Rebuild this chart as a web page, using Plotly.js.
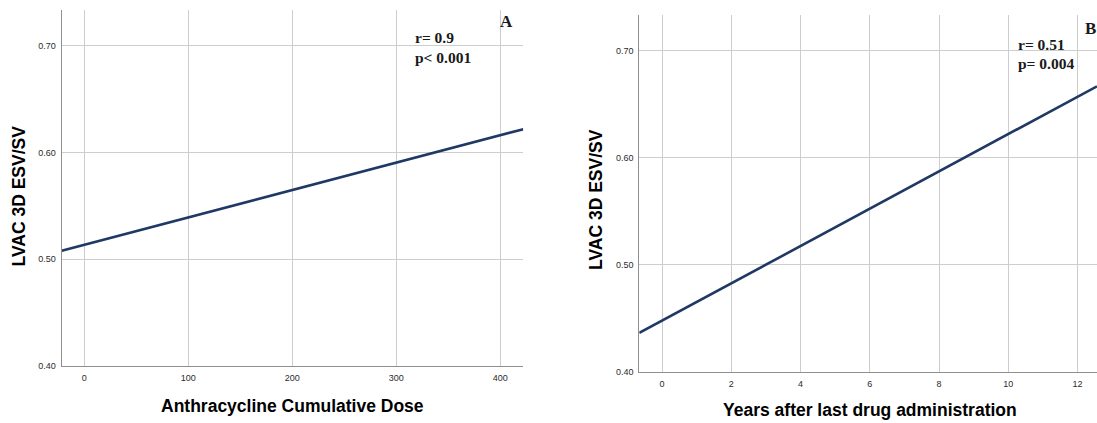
<!DOCTYPE html>
<html>
<head>
<meta charset="utf-8">
<script src="https://cdn.plot.ly/plotly-3.0.1.min.js"></script>
<style>html,body{margin:0;padding:0;background:#fff;}#chart{width:1097px;height:423px;}</style>
</head>
<body>
<div id="chart"></div>
<script>
// Panel A: fitted line, LVAC 3D ESV/SV vs anthracycline cumulative dose
var doseA = [-21.8, 422.1];
var esvA = [0.508, 0.622];
var doseTicks = [0, 100, 200, 300, 400];

// Panel B: fitted line, LVAC 3D ESV/SV vs years after last drug administration
var yearsB = [-0.656, 12.56];
var esvB = [0.4365, 0.667];
var yearTicks = [0, 2, 4, 6, 8, 10, 12];

var yTicks = [0.40, 0.50, 0.60, 0.70];

var statsA = ["r= 0.9", "p< 0.001"];
var statsB = ["r= 0.51", "p= 0.004"];
var panelLabels = ["A", "B"];
var yTitle = "LVAC 3D ESV/SV";
var xTitleA = "Anthracycline Cumulative Dose";
var xTitleB = "Years after last drug administration";

var W = 1097, H = 423;
var lineColor = "#1f3864";
var gridColor = "#cdcdcd";
var axisLineColor = "#8f8f8f";
var tickFont = {family: "Liberation Sans, Arial, sans-serif", size: 9, color: "#2b2b2b"};
var titleFont = {family: "Liberation Sans, Arial, sans-serif", size: 17.5, color: "#000", weight: "bold"};
var statFont = {family: "Liberation Serif, Times New Roman, serif", size: 15.5, color: "#1a1a1a", weight: "bold"};
var labelFont = {family: "Liberation Serif, Times New Roman, serif", size: 17, color: "#1a1a1a", weight: "bold"};

function px(x) { return x / W; }
function py(y) { return (H - y) / H; }

var traces = [
  {x: doseA, y: esvA, type: "scatter", mode: "lines", xaxis: "x", yaxis: "y",
   line: {color: lineColor, width: 2.6}, hoverinfo: "skip"},
  {x: yearsB, y: esvB, type: "scatter", mode: "lines", xaxis: "x2", yaxis: "y2",
   line: {color: lineColor, width: 2.6}, hoverinfo: "skip"}
];

function xAxis(domain, range, ticks, anchor) {
  return {domain: domain, range: range, tickvals: ticks, anchor: anchor,
    showgrid: true, gridcolor: gridColor, gridwidth: 1, zeroline: false,
    showline: true, linecolor: axisLineColor, linewidth: 1,
    ticks: "outside", ticklen: 3, tickcolor: "rgba(0,0,0,0)",
    tickfont: tickFont, automargin: false, fixedrange: true};
}
function yAxis(domain, range, anchor) {
  return {domain: domain, range: range, tickvals: yTicks, tickformat: ".2f", anchor: anchor,
    showgrid: true, gridcolor: gridColor, gridwidth: 1, zeroline: false,
    showline: true, linecolor: axisLineColor, linewidth: 1,
    ticks: "outside", ticklen: 3, tickcolor: "rgba(0,0,0,0)",
    tickfont: tickFont, automargin: false, fixedrange: true};
}

var annotations = [
  // Panel A
  {xref: "x", yref: "y", x: 316, y: 0.7083, text: statsA[0], showarrow: false, xanchor: "left", yanchor: "middle", font: statFont},
  {xref: "x", yref: "y", x: 316, y: 0.6896, text: statsA[1], showarrow: false, xanchor: "left", yanchor: "middle", font: statFont},
  {xref: "x", yref: "y", x: 406.4, y: 0.7233, text: panelLabels[0], showarrow: false, xanchor: "center", yanchor: "middle", font: labelFont},
  {xref: "paper", yref: "paper", x: px(18.5), y: py(196), text: yTitle, textangle: -90, showarrow: false, xanchor: "center", yanchor: "middle", font: titleFont},
  {xref: "paper", yref: "paper", x: px(292.5), y: py(405.7), text: xTitleA, showarrow: false, xanchor: "center", yanchor: "middle", font: titleFont},
  // Panel B
  {xref: "x2", yref: "y2", x: 10.22, y: 0.7056, text: statsB[0], showarrow: false, xanchor: "left", yanchor: "middle", font: statFont},
  {xref: "x2", yref: "y2", x: 10.22, y: 0.6879, text: statsB[1], showarrow: false, xanchor: "left", yanchor: "middle", font: statFont},
  {xref: "x2", yref: "y2", x: 12.36, y: 0.7206, text: panelLabels[1], showarrow: false, xanchor: "center", yanchor: "middle", font: labelFont},
  {xref: "paper", yref: "paper", x: px(596), y: py(200), text: yTitle, textangle: -90, showarrow: false, xanchor: "center", yanchor: "middle", font: titleFont},
  {xref: "paper", yref: "paper", x: px(870), y: py(410), text: xTitleB, showarrow: false, xanchor: "center", yanchor: "middle", font: titleFont}
];

var layout = {
  width: W, height: H,
  margin: {l: 0, r: 0, t: 0, b: 0, pad: 0},
  paper_bgcolor: "#fff", plot_bgcolor: "#fff",
  showlegend: false,
  xaxis: xAxis([px(61.7), px(523.3)], [-21.8, 422.1], doseTicks, "y"),
  yaxis: yAxis([py(366), py(10)], [0.40, 0.7337], "x"),
  xaxis2: xAxis([px(639.3), 1], [-0.656, 12.56], yearTicks, "y2"),
  yaxis2: yAxis([py(372), py(15)], [0.40, 0.7336], "x2"),
  annotations: annotations
};

Plotly.newPlot("chart", traces, layout, {displayModeBar: false, staticPlot: true});
</script>
</body>
</html>
